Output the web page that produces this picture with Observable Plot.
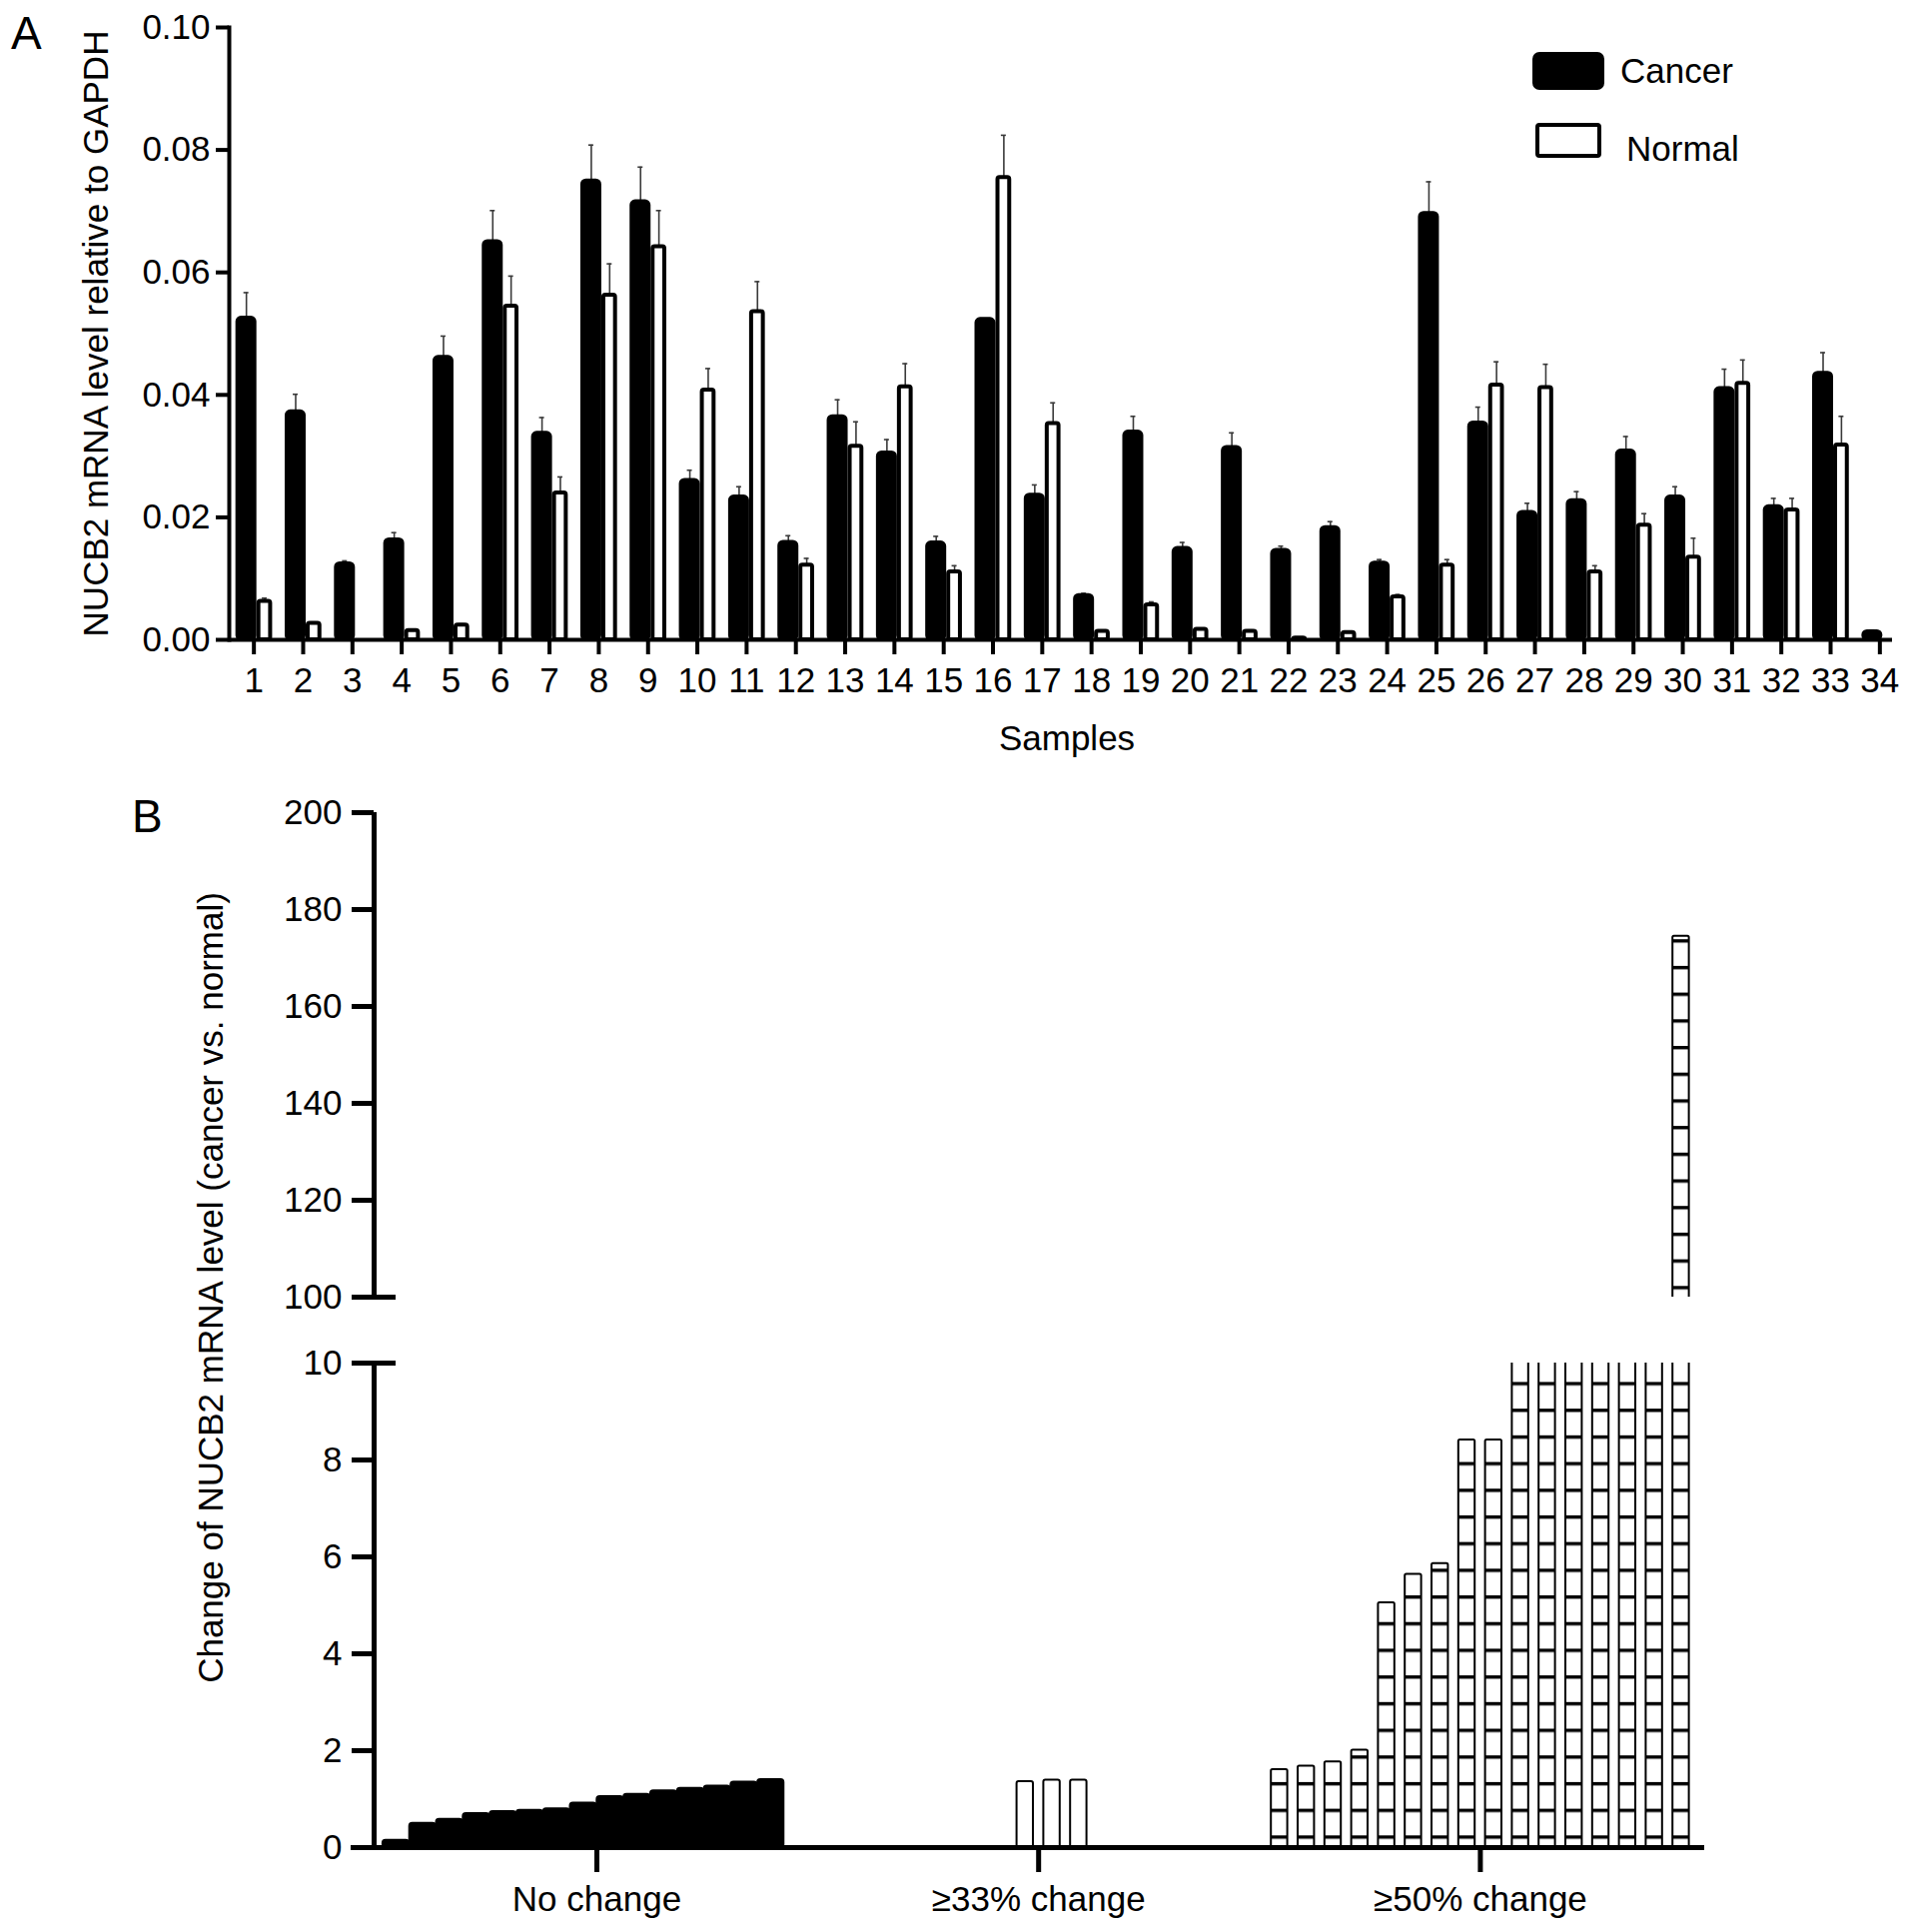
<!DOCTYPE html>
<html>
<head>
<meta charset="utf-8">
<script src="https://cdn.jsdelivr.net/npm/d3@7"></script>
<script src="https://cdn.jsdelivr.net/npm/@observablehq/plot@0.6"></script>
<style>
  body { margin: 0; background: #fff; font-family: "Liberation Sans", Arial, Helvetica, sans-serif; color: #000; }
  #root { position: relative; width: 1913px; height: 1934px; overflow: hidden; background: #fff; }
  .abs { position: absolute; }
  .panel { font-size: 46px; line-height: 1; }
  .legtext { font-size: 35px; line-height: 1; white-space: nowrap; }
  .ylab { font-size: 35px; line-height: 1; white-space: nowrap; transform: translate(-50%, -50%) rotate(-90deg); }
</style>
</head>
<body>
<div id="root"></div>
<script>
// ---------------- Panel A data ----------------
const samples = d3.range(1, 35).map(String);
const cancerMean = [0.0526, 0.0373, 0.0125, 0.0164, 0.0462, 0.0651, 0.0338, 0.0750, 0.0716, 0.0261,
                    0.0234, 0.0160, 0.0365, 0.0306, 0.0159, 0.0524, 0.0237, 0.0073, 0.0340, 0.0150,
                    0.0315, 0.0147, 0.0184, 0.0126, 0.0697, 0.0355, 0.0209, 0.0228, 0.0309, 0.0234,
                    0.0411, 0.0218, 0.0436, 0.0014];
const cancerSem  = [0.0041, 0.0028, 0.0004, 0.0011, 0.0034, 0.0050, 0.0025, 0.0058, 0.0056, 0.0016,
                    0.0016, 0.0010, 0.0027, 0.0021, 0.0010, 0.0000, 0.0016, 0.0003, 0.0025, 0.0009,
                    0.0023, 0.0006, 0.0009, 0.0005, 0.0051, 0.0025, 0.0014, 0.0014, 0.0023, 0.0016,
                    0.0031, 0.0013, 0.0033, 0.0002];
const normalMean = [0.0063, 0.0027, 0.0000, 0.0015, 0.0024, 0.0545, 0.0240, 0.0563, 0.0642, 0.0408,
                    0.0536, 0.0122, 0.0316, 0.0413, 0.0111, 0.0755, 0.0353, 0.0014, 0.0057, 0.0017,
                    0.0014, 0.0003, 0.0012, 0.0070, 0.0122, 0.0416, 0.0412, 0.0111, 0.0187, 0.0135,
                    0.0419, 0.0212, 0.0318, 0.0000];
const normalSem  = [0.0005, 0.0002, 0.0000, 0.0002, 0.0002, 0.0049, 0.0026, 0.0051, 0.0059, 0.0035,
                    0.0049, 0.0011, 0.0040, 0.0038, 0.0010, 0.0069, 0.0034, 0.0000, 0.0005, 0.0002,
                    0.0002, 0.0000, 0.0002, 0.0004, 0.0009, 0.0038, 0.0038, 0.0010, 0.0019, 0.0031,
                    0.0038, 0.0019, 0.0047, 0.0000];
const yTicksA = [0, 0.02, 0.04, 0.06, 0.08, 0.10];
const seriesNames = ["Cancer", "Normal"];

// ---------------- Panel B data ----------------
const groupLabels = ["No change", "≥33% change", "≥50% change"];
const noChange = [0.15, 0.50, 0.58, 0.70, 0.74, 0.77, 0.80, 0.92, 1.05, 1.10, 1.17, 1.22, 1.27, 1.35, 1.40];
const change33 = [1.36, 1.39, 1.39];
const change50 = [1.61, 1.68, 1.77, 2.01, 5.05, 5.64, 5.86, 8.41, 8.41, 11.0, 13.8, 18.0, 19.0, 22.0, 73.0, 174.5];
const lowerTicks = [0, 2, 4, 6, 8, 10];
const upperTicks = [100, 120, 140, 160, 180, 200];

// ---------------- layout / style ----------------
const W = 1913;
const FONT = '"Liberation Sans", Arial, Helvetica, sans-serif';
const baseStyle = {fontSize: "35px", fontFamily: FONT, background: "transparent", color: "black", overflow: "visible"};
const root = document.getElementById("root");

function place(el, left, top) {
  el.style.position = "absolute";
  el.style.left = left + "px";
  el.style.top = top + "px";
  root.appendChild(el);
  return el;
}
function html(tag, cls, text, css) {
  const el = document.createElement(tag);
  if (cls) el.className = cls;
  if (text != null) el.textContent = text;
  Object.assign(el.style, css || {});
  root.appendChild(el);
  return el;
}

// ---------------- Panel A ----------------
const mA = {left: 229, right: 7, top: 27, bottom: 133};
const stepA = (W - mA.left - mA.right) / samples.length;
const half = stepA / 2;
const cancerSpan = [-16.5, 1.5];   // pixel span of bar relative to the sample tick
const normalSpan = [5, 16.75];
const cC = (cancerSpan[0] + cancerSpan[1]) / 2;
const cN = (normalSpan[0] + normalSpan[1]) / 2;

const rowsC = samples.map((s, i) => ({sample: s, series: seriesNames[0], value: cancerMean[i], err: cancerSem[i]}));
const rowsN = samples.map((s, i) => ({sample: s, series: seriesNames[1], value: normalMean[i], err: normalSem[i]}))
  .filter(d => d.value > 0);
const errC = rowsC.filter(d => d.err > 0);
const errN = rowsN.filter(d => d.err > 0);
const errStyle = {stroke: "#3a3a3a", strokeWidth: 1.6};

const plotA = Plot.plot({
  width: W, height: 640 + mA.bottom,
  marginLeft: mA.left, marginRight: mA.right, marginTop: mA.top, marginBottom: mA.bottom,
  style: baseStyle,
  x: {type: "band", domain: samples, padding: 0, round: false},
  y: {domain: [0, 0.1]},
  marks: [
    Plot.ruleX(errC, {x: "sample", y1: "value", y2: d => d.value + d.err, dx: cC, ...errStyle}),
    Plot.ruleX(errN, {x: "sample", y1: "value", y2: d => d.value + d.err, dx: cN, ...errStyle}),
    Plot.tickY(errC, {x: "sample", y: d => d.value + d.err, insetLeft: half + cC - 2.5, insetRight: half - cC - 2.5, ...errStyle}),
    Plot.tickY(errN, {x: "sample", y: d => d.value + d.err, insetLeft: half + cN - 2.5, insetRight: half - cN - 2.5, ...errStyle}),
    Plot.barY(rowsC, {x: "sample", y: "value", fill: "black", stroke: "black", strokeWidth: 3,
      strokeLinejoin: "round", rx: 4, insetLeft: half + cancerSpan[0], insetRight: half - cancerSpan[1]}),
    Plot.barY(rowsN, {x: "sample", y: "value", fill: "white", stroke: "black", strokeWidth: 4,
      strokeLinejoin: "round", rx: 2, insetLeft: half + normalSpan[0], insetRight: half - normalSpan[1]}),
    Plot.ruleY([0], {strokeWidth: 4, insetRight: 12}),
    Plot.frame({anchor: "left", strokeWidth: 4}),
    Plot.axisY({ticks: yTicksA, tickFormat: ".2f", tickSize: 13, tickPadding: 6, strokeWidth: 4,
      label: "NUCB2 mRNA level relative to GAPDH", labelAnchor: "center", labelOffset: 146, labelArrow: "none"}),
    Plot.axisX({tickSize: 15, tickPadding: 13, strokeWidth: 4,
      label: "Samples", labelAnchor: "center", labelOffset: 110, labelArrow: "none"})
  ]
});
place(plotA, 0, 0);

// Panel letters
html("div", "abs panel", "A", {left: "11px", top: "10px"});
html("div", "abs panel", "B", {left: "132px", top: "794px"});

// Legend (panel A)
html("div", "abs", null, {left: "1534px", top: "52px", width: "72px", height: "38px", background: "#000", borderRadius: "7px"});
html("div", "abs", null, {left: "1537px", top: "123px", width: "66px", height: "35px", background: "#fff",
  border: "4.5px solid #000", borderRadius: "4px", boxSizing: "border-box"});
html("div", "abs legtext", seriesNames[0], {left: "1622px", top: "53px"});
html("div", "abs legtext", seriesNames[1], {left: "1628px", top: "131px"});

// ---------------- Panel B ----------------
const xDomB = [-8.32, 41.38];
const groupStep = 16.5;
const slotStart = [0, 7, 0];
const groupValues = [noChange, change33, change50];
const rowsB = groupValues.flatMap((vals, g) =>
  vals.map((v, j) => ({group: groupLabels[g], g, pos: g * groupStep + slotStart[g] + j - 7.5, value: v})));
const boxH = 26.7;

function barsB(patId) {
  const common = {x1: d => d.pos - 0.5, x2: d => d.pos + 0.5, y1: 0, y2: "value", stroke: "black", clip: true};
  return [
    Plot.rect(rowsB.filter(d => d.g === 0), {...common, fill: "black", strokeWidth: 2, rx: 3, insetLeft: 0.3, insetRight: 0.3}),
    Plot.rect(rowsB.filter(d => d.g === 1), {...common, fill: "white", strokeWidth: 2, rx: 2, insetLeft: 5.2, insetRight: 5.2}),
    Plot.rect(rowsB.filter(d => d.g === 2), {...common, fill: `url(#${patId})`, strokeWidth: 2, rx: 1.5, insetLeft: 5.2, insetRight: 5.2})
  ];
}
function addPattern(svg, id) {
  const defs = d3.select(svg).insert("defs", ":first-child");
  const p = defs.append("pattern").attr("id", id).attr("patternUnits", "userSpaceOnUse")
    .attr("width", 8).attr("height", boxH);
  p.append("rect").attr("width", 8).attr("height", boxH).attr("fill", "white");
  p.append("rect").attr("y", 0).attr("width", 8).attr("height", 3.4).attr("fill", "black");
}

const mB = {left: 374, right: 207};
const upper = Plot.plot({
  width: W, height: 548, marginLeft: mB.left, marginRight: mB.right, marginTop: 33, marginBottom: 30,
  style: baseStyle,
  x: {domain: xDomB, axis: null},
  y: {domain: [100, 200]},
  marks: [
    ...barsB("boxesUp"),
    Plot.ruleX([xDomB[0]], {y1: 100, y2: 200, strokeWidth: 5}),
    Plot.ruleY([100], {x1: xDomB[0], x2: xDomB[0], insetLeft: -22, insetRight: -22, strokeWidth: 5}),
    Plot.axisY({ticks: upperTicks, tickSize: 22, tickPadding: 10, strokeWidth: 5, label: null})
  ]
});
addPattern(upper, "boxesUp");
place(upper, 0, 780);

const lower = Plot.plot({
  width: W, height: 604, marginLeft: mB.left, marginRight: mB.right, marginTop: 34, marginBottom: 85,
  style: baseStyle,
  x: {domain: xDomB},
  y: {domain: [0, 10]},
  marks: [
    ...barsB("boxesLo"),
    Plot.ruleY([0], {strokeWidth: 5, insetLeft: -23}),
    Plot.ruleX([xDomB[0]], {y1: 0, y2: 10, strokeWidth: 5}),
    Plot.ruleY([10], {x1: xDomB[0], x2: xDomB[0], insetLeft: -22, insetRight: -22, strokeWidth: 5}),
    Plot.axisY({ticks: lowerTicks, tickSize: 22, tickPadding: 10, strokeWidth: 5, label: null}),
    Plot.axisX({ticks: groupLabels.map((_, g) => g * groupStep), tickFormat: v => groupLabels[Math.round(v / groupStep)],
      tickSize: 25, tickPadding: 14, strokeWidth: 5, label: null})
  ]
});
addPattern(lower, "boxesLo");
place(lower, 0, 1330);

// Panel B y-axis title spanning both segments
html("div", "abs ylab", "Change of NUCB2 mRNA level (cancer vs. normal)", {left: "210px", top: "1289px"});
</script>
</body>
</html>
